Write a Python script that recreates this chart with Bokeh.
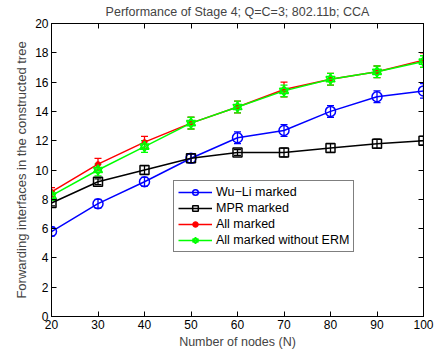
from bokeh.plotting import figure
from bokeh.models import (ColumnDataSource, Whisker, TeeHead, LinearAxis, Legend,
                          LegendItem, FixedTicker, Range1d)
from bokeh.embed import file_html
from bokeh.resources import INLINE

nodes = [20, 30, 40, 50, 60, 70, 80, 90, 100]

wuli = [5.8, 7.7, 9.2, 10.8, 12.2, 12.7, 14.0, 15.0, 15.4]
wuli_err = [0.3, 0.3, 0.3, 0.3, 0.4, 0.4, 0.4, 0.4, 0.5]

mpr = [7.75, 9.2, 10.0, 10.8, 11.2, 11.2, 11.5, 11.8, 12.0]
mpr_err = [0.2, 0.2, 0.3, 0.3, 0.2, 0.3, 0.3, 0.3, 0.3]

allm = [8.5, 10.4, 11.9, 13.2, 14.3, 15.5, 16.2, 16.7, 17.5]
allm_err = [0.3, 0.4, 0.4, 0.4, 0.4, 0.5, 0.4, 0.4, 0.5]

noerm = [8.25, 10.0, 11.6, 13.2, 14.3, 15.4, 16.2, 16.7, 17.4]
noerm_err = [0.3, 0.4, 0.4, 0.4, 0.4, 0.4, 0.4, 0.4, 0.4]

x_ticks = [20, 30, 40, 50, 60, 70, 80, 90, 100]
y_ticks = [0, 2, 4, 6, 8, 10, 12, 14, 16, 18, 20]

FONT = "Liberation Sans"

p = figure(width=440, height=356, output_backend="svg", toolbar_location=None,
           x_range=Range1d(20, 100), y_range=Range1d(0, 20),
           min_border_left=51, min_border_right=17, min_border_top=23,
           min_border_bottom=40)

p.title.text = "Performance of Stage 4; Q=C=3; 802.11b; CCA"
p.title.align = "center"
p.title.vertical_align = "top"
p.title.text_font = FONT
p.title.text_font_size = "12.5px"
p.title.text_font_style = "normal"
p.title.standoff = 6

p.xgrid.visible = False
p.ygrid.visible = False
p.outline_line_color = "black"
p.outline_line_alpha = 1.0
p.outline_line_width = 1

xa = p.xaxis[0]
ya = p.yaxis[0]
xa.ticker = FixedTicker(ticks=x_ticks)
ya.ticker = FixedTicker(ticks=y_ticks)
for ax in (xa, ya):
    ax.major_tick_in = 5
    ax.major_tick_out = 0
    ax.minor_tick_line_color = None
    ax.axis_line_color = "black"
    ax.major_tick_line_color = "black"
    ax.major_label_text_font = FONT
    ax.major_label_text_font_size = "12px"
    ax.major_label_text_color = "black"
    ax.major_label_standoff = 3
    ax.axis_label_text_font = FONT
    ax.axis_label_text_font_size = "12.5px"
    ax.axis_label_text_font_style = "normal"
    ax.axis_label_standoff = 3
ya.axis_label_text_font_size = "13px"
xa.axis_label = "Number of nodes (N)"
ya.axis_label = "Forwarding interfaces in the constructed tree"

# box-style ticks on the top and right edges (no labels drawn)
top = LinearAxis(ticker=FixedTicker(ticks=x_ticks))
right = LinearAxis(ticker=FixedTicker(ticks=y_ticks))
for ax in (top, right):
    ax.major_tick_in = 5
    ax.major_tick_out = 0
    ax.minor_tick_line_color = None
    ax.axis_line_color = "black"
    ax.major_label_text_color = None
    ax.major_label_text_font_size = "1px"
    ax.major_label_standoff = 0
p.add_layout(top, "above")
p.add_layout(right, "right")

series = [
    ("Wu\u2212Li marked", wuli, wuli_err, "#0000ff"),
    ("MPR marked", mpr, mpr_err, "#000000"),
    ("All marked", allm, allm_err, "#ff0000"),
    ("All marked without ERM", noerm, noerm_err, "#00ff00"),
]

items = []
for name, ys, errs, color in series:
    src = ColumnDataSource(dict(x=nodes, y=ys,
                                lo=[v - e for v, e in zip(ys, errs)],
                                hi=[v + e for v, e in zip(ys, errs)]))
    w = Whisker(source=src, base="x", upper="hi", lower="lo",
                line_color=color, line_width=1.3,
                upper_head=TeeHead(size=7, line_color=color, line_width=1.3),
                lower_head=TeeHead(size=7, line_color=color, line_width=1.3))
    p.add_layout(w)
    line = p.line("x", "y", source=src, line_color=color, line_width=1.5)
    rends = [line]
    if name.startswith("Wu"):
        rends.append(p.scatter("x", "y", source=src, marker="circle", size=10,
                               fill_color=None, line_color=color, line_width=1.5))
    elif name.startswith("MPR"):
        rends.append(p.scatter("x", "y", source=src, marker="square", size=9,
                               fill_color=None, line_color=color, line_width=1.5))
    elif name == "All marked":
        rends.append(p.scatter("x", "y", source=src, marker="circle", size=5,
                               fill_color=color, line_color=color, line_width=1))
    else:
        rends.append(p.scatter("x", "y", source=src, marker="triangle", size=9,
                               fill_color=None, line_color=color, line_width=1.5))
        rends.append(p.scatter("x", "y", source=src, marker="inverted_triangle", size=9,
                               fill_color=None, line_color=color, line_width=1.5))
    items.append(LegendItem(label=name, renderers=rends))

legend = Legend(items=items, location=(122, 64))
legend.border_line_color = "black"
legend.border_line_width = 1.5
legend.background_fill_color = "white"
legend.background_fill_alpha = 1.0
legend.label_text_font = FONT
legend.label_text_font_size = "12.5px"
legend.label_text_color = "black"
legend.glyph_width = 34
legend.glyph_height = 14
legend.label_height = 14
legend.spacing = 2
legend.padding = 4
legend.margin = 0
legend.label_standoff = 4
p.add_layout(legend, "center")

open("out.html", "w").write(file_html(p, INLINE))
